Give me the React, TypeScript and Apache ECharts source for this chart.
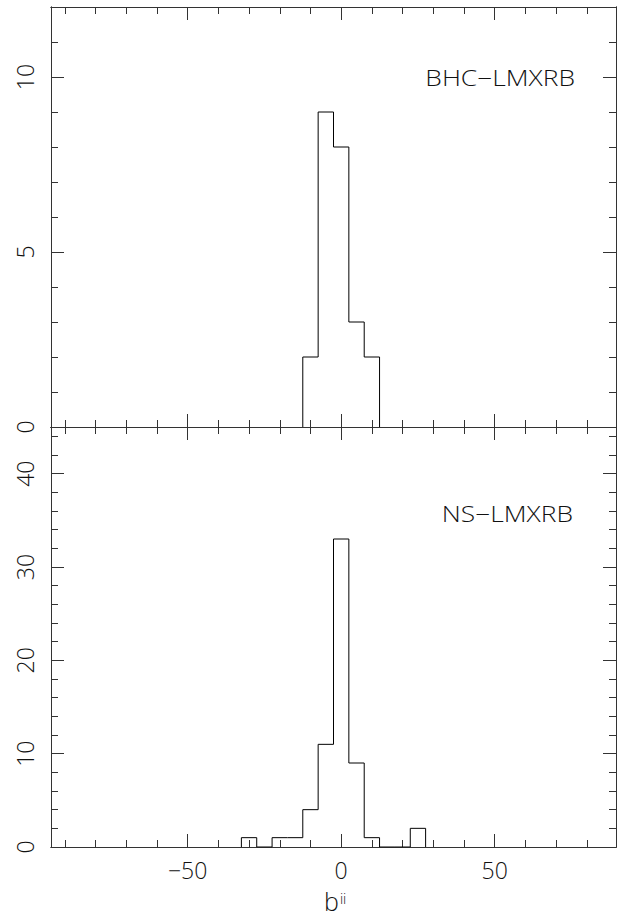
import React, { useEffect, useRef } from "react";
import * as echarts from "echarts";

// Histogram bins (galactic latitude b^II, bin width 5 deg)
const BIN_WIDTH = 5;
const bhcCenters = [-10, -5, 0, 5, 10];
const bhcCounts = [2, 9, 8, 3, 2];
const nsCenters = [-30, -25, -20, -15, -10, -5, 0, 5, 10, 15, 20, 25];
const nsCounts = [1, 0, 1, 1, 4, 11, 33, 9, 1, 0, 0, 2];

// Axis ranges & ticks
const X_MIN = -94.5;
const X_MAX = 89.5;
const xMajor = [-50, 0, 50];
const xMinor = [-90, -80, -70, -60, -50, -40, -30, -20, -10, 0, 10, 20, 30, 40, 50, 60, 70, 80];
const topYMax = 12;
const topYMajor = [0, 5, 10];
const topYMinor = [0, 1, 2, 3, 4, 5, 6, 7, 8, 9, 10, 11, 12];
const botYMax = 45;
const botYMajor = [0, 10, 20, 30, 40];
const botYMinor = [0, 2, 4, 6, 8, 10, 12, 14, 16, 18, 20, 22, 24, 26, 28, 30, 32, 34, 36, 38, 40, 42, 44];

const panelLabels = ["BHC\u2212LMXRB", "NS\u2212LMXRB"];

const FONT = "'Open Sans', Roboto, 'DejaVu Sans', sans-serif";
const LINE = "#333";

function outline(centers: number[], counts: number[], w: number) {
  const pts: number[][] = [];
  pts.push([centers[0] - w / 2, 0]);
  centers.forEach((c, i) => {
    pts.push([c - w / 2, counts[i]]);
    pts.push([c + w / 2, counts[i]]);
  });
  pts.push([centers[centers.length - 1] + w / 2, 0]);
  return pts;
}

const fmt = (v: number) => String(v).replace("-", "\u2212");

function xAxis(gridIndex: number, position: string, major: boolean, labels: boolean) {
  return {
    type: "value",
    gridIndex,
    position,
    min: X_MIN,
    max: X_MAX,
    axisLine: { show: true, onZero: false, lineStyle: { color: LINE, width: 1 } },
    axisTick: {
      show: true,
      inside: true,
      length: major ? 13 : 7,
      customValues: major ? xMajor : xMinor,
      lineStyle: { color: LINE, width: 1 },
    },
    axisLabel: {
      show: labels,
      customValues: xMajor,
      formatter: fmt,
      margin: 11,
      fontSize: 23,
      fontFamily: FONT,
      fontWeight: 300,
      color: "#111",
    },
    splitLine: { show: false },
  };
}

function yAxis(gridIndex: number, position: string, major: boolean, labels: boolean, max: number, majorVals: number[], minorVals: number[]) {
  return {
    type: "value",
    gridIndex,
    position,
    min: 0,
    max,
    axisLine: { show: true, onZero: false, lineStyle: { color: LINE, width: 1 } },
    axisTick: {
      show: true,
      inside: true,
      length: major ? 13 : 7,
      customValues: major ? majorVals : minorVals,
      lineStyle: { color: LINE, width: 1 },
    },
    axisLabel: {
      show: labels,
      customValues: majorVals,
      rotate: 90,
      margin: 15,
      fontSize: 23,
      fontFamily: FONT,
      fontWeight: 300,
      color: "#111",
    },
    splitLine: { show: false },
  };
}

const labelStyle = (text: string) => ({
  text,
  align: "right",
  verticalAlign: "middle",
  fontSize: 22,
  fontFamily: FONT,
  fontWeight: 300,
  fill: "#111",
});

export default function App() {
  const ref = useRef<HTMLDivElement>(null);
  useEffect(() => {
    if (!ref.current) return;
    const chart = echarts.init(ref.current, undefined, { renderer: "svg" });
    const xAxes = [
      xAxis(0, "bottom", false, false),
      xAxis(0, "bottom", true, false),
      xAxis(0, "top", false, false),
      xAxis(0, "top", true, false),
      xAxis(1, "bottom", false, false),
      xAxis(1, "bottom", true, true),
      xAxis(1, "top", false, false),
      xAxis(1, "top", true, false),
    ];
    const yAxes = [
      yAxis(0, "left", false, false, topYMax, topYMajor, topYMinor),
      yAxis(0, "left", true, true, topYMax, topYMajor, topYMinor),
      yAxis(0, "right", false, false, topYMax, topYMajor, topYMinor),
      yAxis(0, "right", true, false, topYMax, topYMajor, topYMinor),
      yAxis(1, "left", false, false, botYMax, botYMajor, botYMinor),
      yAxis(1, "left", true, true, botYMax, botYMajor, botYMinor),
      yAxis(1, "right", false, false, botYMax, botYMajor, botYMinor),
      yAxis(1, "right", true, false, botYMax, botYMajor, botYMinor),
    ];
    chart.setOption({
      animation: false,
      backgroundColor: "#fff",
      grid: [
        { left: 51, top: 7, width: 565, height: 420 },
        { left: 51, top: 427, width: 565, height: 420 },
      ],
      xAxis: xAxes,
      yAxis: yAxes,
      series: [
        {
          type: "line",
          xAxisIndex: 0,
          yAxisIndex: 0,
          data: outline(bhcCenters, bhcCounts, BIN_WIDTH),
          showSymbol: false,
          lineStyle: { color: "#000", width: 1 },
          z: 5,
        },
        {
          type: "line",
          xAxisIndex: 4,
          yAxisIndex: 4,
          data: outline(nsCenters, nsCounts, BIN_WIDTH),
          showSymbol: false,
          lineStyle: { color: "#000", width: 1 },
          z: 5,
        },
      ],
      graphic: [
        {
          type: "text",
          x: 575,
          y: 77,
          scaleX: 1.2,
          style: labelStyle(panelLabels[0]),
        },
        {
          type: "text",
          x: 573,
          y: 513,
          scaleX: 1.2,
          style: labelStyle(panelLabels[1]),
        },
        {
          type: "text",
          x: 324,
          y: 900,
          style: {
            text: "{b|b}{s|ii}",
            align: "left",
            verticalAlign: "middle",
            rich: {
              b: { fontSize: 25, lineHeight: 26, fontFamily: FONT, fontWeight: 300, fill: "#111", verticalAlign: "bottom" },
              s: { fontSize: 14, lineHeight: 26, fontFamily: FONT, fontWeight: 300, fill: "#111", padding: [0, 0, 8, 1], verticalAlign: "bottom" },
            },
          },
        },
      ],
    });
    return () => chart.dispose();
  }, []);
  return (
    <div
      ref={ref}
      style={{ position: "absolute", left: 0, top: 0, width: 625, height: 916 }}
    />
  );
}
